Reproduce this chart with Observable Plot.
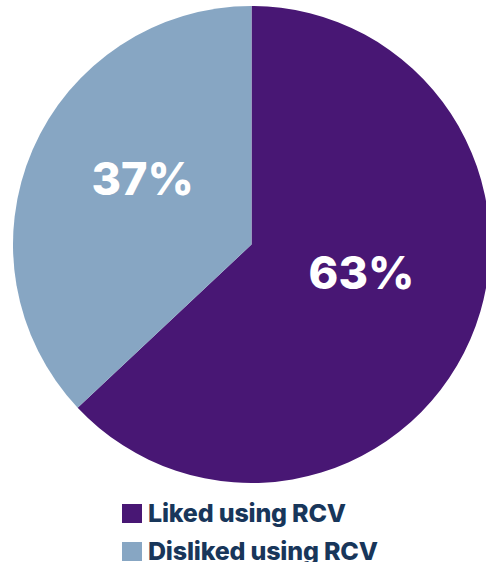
<!DOCTYPE html>
<html>
<head>
<meta charset="utf-8">
<script src="https://cdn.jsdelivr.net/npm/d3@7"></script>
<script src="https://cdn.jsdelivr.net/npm/@observablehq/plot@0.6"></script>
<style>
  html, body { margin: 0; padding: 0; background: #fff; }
  #chart svg { display: block; }
  .legend { margin-top: 12px; padding-left: 122px; font-family: Inter, "DejaVu Sans", sans-serif; font-weight: 800; color: #18365a; }
  .row { display: flex; align-items: center; height: 19px; margin-bottom: 19px; white-space: nowrap; }
  .sw { width: 20px; height: 19px; margin-right: 6px; flex: none; }
  .lbl { font-size: 25px; letter-spacing: -0.2px; line-height: 19px; }
</style>
</head>
<body>
<div id="chart"></div>
<div class="legend" id="legend"></div>
<script>
const categories = ["Liked using RCV", "Disliked using RCV"];
const values = [63, 37];
const labels = ["63%", "37%"];
const colors = ["#481774", "#87a6c3"];

const data = categories.map((c, i) => ({category: c, value: values[i], label: labels[i]}));
const arcs = d3.pie().sort(null).value(d => d.value)(data);
const labelData = arcs.map(a => {
  const mid = (a.startAngle + a.endAngle) / 2;
  return {label: a.data.label, x: 0.5 * Math.sin(mid), y: 0.5 * Math.cos(mid)};
});

function pieMark(index, scales, values, dimensions) {
  const cx = scales.x(0), cy = scales.y(0);
  const r = scales.x(1) - scales.x(0);
  const g = d3.create("svg:g").attr("transform", `translate(${cx},${cy})`);
  const arcGen = d3.arc().innerRadius(0).outerRadius(r);
  g.selectAll("path").data(arcs).join("path")
    .attr("d", arcGen)
    .attr("fill", d => scales.color(d.data.category));
  return g.node();
}

const plot = Plot.plot({
  width: 486,
  height: 492,
  marginLeft: 13,
  marginRight: 0,
  marginTop: 6,
  marginBottom: 9,
  x: {domain: [-1, (486 - 251.5) / 238.5], axis: null},
  y: {domain: [-1, 1], axis: null},
  color: {domain: categories, range: colors},
  marks: [
    pieMark,
    Plot.text(labelData, {
      x: "x", y: "y", text: "label",
      fill: "white", fontSize: 45, fontWeight: 800,
      fontFamily: "Inter, 'DejaVu Sans', sans-serif",
      lineAnchor: "bottom", dy: -3
    })
  ]
});
document.getElementById("chart").appendChild(plot);

const colorScale = plot.scale("color");
const legend = d3.select("#legend");
categories.forEach((c, i) => {
  const row = legend.append("div").attr("class", "row");
  row.append("div").attr("class", "sw").style("background", colorScale.range[i]);
  row.append("div").attr("class", "lbl").text(c);
});
</script>
</body>
</html>
